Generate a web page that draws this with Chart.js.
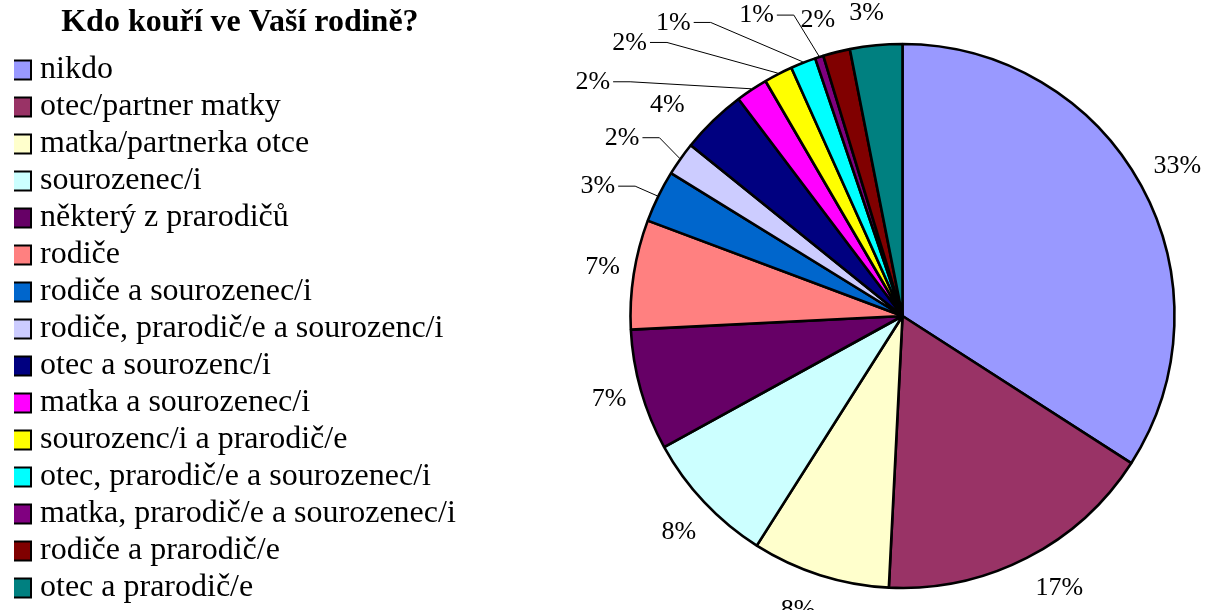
<!DOCTYPE html>
<html>
<head>
<meta charset="utf-8">
<script src="https://cdn.jsdelivr.net/npm/chart.js@4.4.1/dist/chart.umd.min.js"></script>
<style>
  html, body { margin: 0; padding: 0; background: #ffffff; }
  canvas { display: block; }
</style>
</head>
<body>
<canvas id="c" width="1216" height="610"></canvas>
<script>
// ---- data ----
const chartTitle = 'Kdo kouří ve Vaší rodině?';
const categories = [
  'nikdo',
  'otec/partner matky',
  'matka/partnerka otce',
  'sourozenec/i',
  'některý z prarodičů',
  'rodiče',
  'rodiče a sourozenec/i',
  'rodiče, prarodič/e a sourozenc/i',
  'otec a sourozenc/i',
  'matka a sourozenec/i',
  'sourozenc/i a prarodič/e',
  'otec, prarodič/e a sourozenec/i',
  'matka, prarodič/e a sourozenec/i',
  'rodiče a prarodič/e',
  'otec a prarodič/e'
];
// share of answers in %
const values = [34.1, 16.7, 8.2, 8.0, 7.2, 6.5, 3.1, 2.0, 3.9, 1.9, 1.7, 1.5, 0.5, 1.6, 3.1];
// percentage labels as printed in the chart
const valueLabels = ['33%', '17%', '8%', '8%', '7%', '7%', '3%', '2%', '4%', '2%', '2%', '1%', '1%', '2%', '3%'];
const colors = [
  '#9999FF', '#993366', '#FFFFCC', '#CCFFFF', '#660066',
  '#FF8080', '#0066CC', '#CCCCFF', '#000080', '#FF00FF',
  '#FFFF00', '#00FFFF', '#800080', '#800000', '#008080'
];
// label placement relative to slice middle: [angle shift (deg), distance beyond rim (px), leader line]
const labelPlacement = [
  [0, 41, false], [-2.8, 42, false], [1.9, 40, false], [-0.8, 39, false], [0, 33, false],
  [0.5, 32, false], [-3.1, 59, true], [-2.9, 60, true], [-4.0, 44, false], [-19.3, 116, true],
  [-17.8, 114, true], [-16.6, 100, true], [-8.1, 62, true], [-1.9, 36, false], [-1.2, 33, false]
];

// ---- layout ----
const FONT = '"Liberation Serif", "Times New Roman", Times, serif';
const W = 1216, H = 610;
const pieCenterX = 902.5, pieCenterY = 316;
const pieRadius = 272;

// place the pie's area so that it is centred where the reference pie is
const pieAreaPlugin = {
  id: 'pieArea',
  afterLayout(chart) {
    const a = chart.chartArea;
    a.left = 2 * pieCenterX - W;
    a.right = W;
    a.top = 2 * pieCenterY - H;
    a.bottom = H;
    a.width = a.right - a.left;
    a.height = a.bottom - a.top;
  }
};

const pctLabelPlugin = {
  id: 'pctLabels',
  afterDatasetsDraw(chart) {
    const meta = chart.getDatasetMeta(0);
    const ctx = chart.ctx;
    ctx.save();
    ctx.font = '26px ' + FONT;
    ctx.fillStyle = '#000';
    ctx.strokeStyle = '#000';
    ctx.lineWidth = 1;
    ctx.textAlign = 'center';
    ctx.textBaseline = 'middle';
    meta.data.forEach((arc, i) => {
      const p = arc.getProps(['x', 'y', 'startAngle', 'endAngle', 'outerRadius'], true);
      const mid = (p.startAngle + p.endAngle) / 2;
      const [dA, dR, leader] = labelPlacement[i];
      const a = mid + dA * Math.PI / 180;
      const d = p.outerRadius + dR;
      const lx = p.x + d * Math.cos(a);
      const ly = p.y + d * Math.sin(a);
      ctx.fillText(valueLabels[i], lx, ly);
      if (leader) {
        const w = ctx.measureText(valueLabels[i]).width;
        const x0 = lx + w / 2 + 3;
        ctx.beginPath();
        ctx.moveTo(x0, ly - 0.5);
        ctx.lineTo(x0 + 17, ly - 0.5);
        ctx.lineTo(p.x + (p.outerRadius + 1) * Math.cos(mid), p.y + (p.outerRadius + 1) * Math.sin(mid));
        ctx.stroke();
      }
    });
    ctx.restore();
  }
};

Chart.defaults.font.family = FONT;
Chart.defaults.color = '#000';

const baseGenerate = Chart.overrides.doughnut.plugins.legend.labels.generateLabels;

new Chart(document.getElementById('c'), {
  type: 'pie',
  data: {
    labels: categories,
    datasets: [{
      data: values,
      backgroundColor: colors,
      borderColor: '#000',
      borderWidth: 2.6
    }]
  },
  options: {
    responsive: false,
    animation: false,
    devicePixelRatio: 1,
    events: [],
    radius: pieRadius,
    layout: { padding: { top: 0, left: 14, right: 0, bottom: 0 } },
    plugins: {
      tooltip: { enabled: false },
      legend: {
        position: 'left',
        align: 'start',
        title: {
          display: true,
          text: chartTitle,
          color: '#000',
          font: { family: FONT, size: 32, weight: 'bold' },
          padding: { top: 7, bottom: 3.6 }
        },
        labels: {
          color: '#000',
          font: { family: FONT, size: 32 },
          padding: 5,
          usePointStyle: true,
          pointStyle: 'rect',
          boxWidth: 5,
          boxHeight: 19,
          generateLabels: (chart) => baseGenerate(chart).map(l => Object.assign(l, { lineWidth: 2 }))
        }
      }
    }
  },
  plugins: [pieAreaPlugin, pctLabelPlugin]
});
</script>
</body>
</html>
